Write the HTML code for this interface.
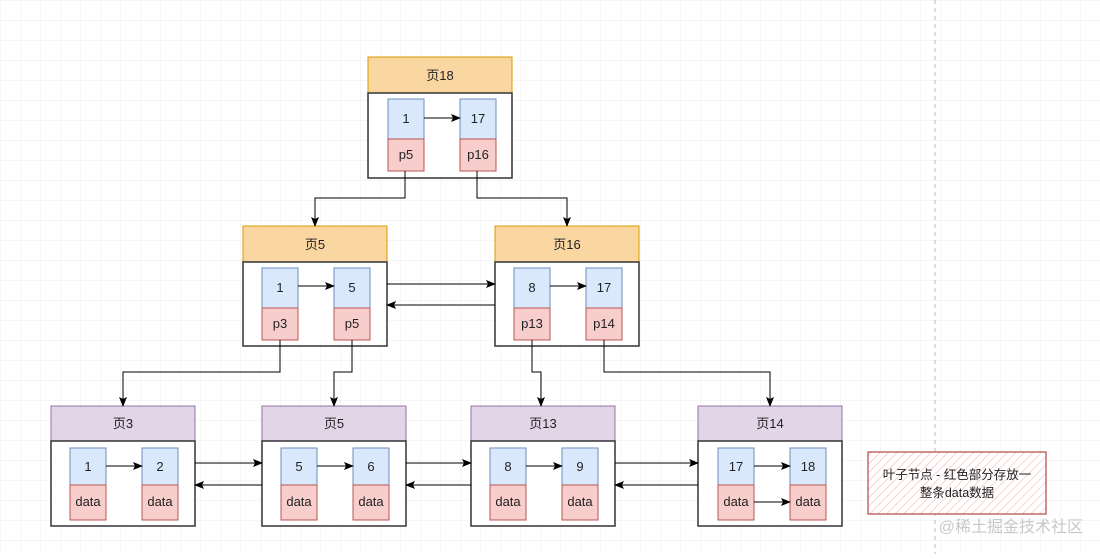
<!DOCTYPE html>
<html><head><meta charset="utf-8"><style>
body{margin:0;background:#fff}
svg text{font-family:"Liberation Sans","Noto Sans CJK SC",sans-serif;font-size:13px;fill:#222}
</style></head><body>
<svg width="1100" height="554" viewBox="0 0 1100 554" xmlns="http://www.w3.org/2000/svg">
<defs>
<pattern id="g" width="20" height="20" patternUnits="userSpaceOnUse"><path d="M20 0H0V20" fill="none" stroke="#ececec" stroke-width="1"/></pattern>
<pattern id="h" width="6" height="6" patternUnits="userSpaceOnUse" patternTransform="rotate(45)"><line x1="0" y1="0" x2="0" y2="6" stroke="#f2b8b8" stroke-width="1.2"/></pattern>
<marker id="a" markerWidth="10" markerHeight="8" refX="9" refY="4" orient="auto" markerUnits="userSpaceOnUse"><path d="M0 0L10 4L0 8L2 4Z" fill="#000"/></marker>
</defs>
<rect width="1100" height="554" fill="url(#g)"/>
<line x1="935" y1="0" x2="935" y2="554" stroke="#bbb" stroke-dasharray="4 4"/>
<g id="nodes"></g>
<!-- Page 18 -->
<rect x="368" y="57" width="144" height="36" fill="#fad7a0" stroke="#d79b00"/>
<text x="440" y="80" text-anchor="middle">页18</text>
<rect x="368" y="93" width="144" height="85" fill="#fff" stroke="#333" stroke-width="1.5"/>
<rect x="388" y="99" width="36" height="40" fill="#dae8fc" stroke="#6c8ebf"/><text x="406" y="123" text-anchor="middle">1</text>
<rect x="388" y="139" width="36" height="32" fill="#f8cecc" stroke="#b85450"/><text x="406" y="159" text-anchor="middle">p5</text>
<rect x="460" y="99" width="36" height="40" fill="#dae8fc" stroke="#6c8ebf"/><text x="478" y="123" text-anchor="middle">17</text>
<rect x="460" y="139" width="36" height="32" fill="#f8cecc" stroke="#b85450"/><text x="478" y="159" text-anchor="middle">p16</text>
<line x1="424" y1="118" x2="460" y2="118" stroke="#000" marker-end="url(#a)"/>
<!-- Page 5 mid -->
<rect x="243" y="226" width="144" height="36" fill="#fad7a0" stroke="#d79b00"/>
<text x="315" y="249" text-anchor="middle">页5</text>
<rect x="243" y="262" width="144" height="84" fill="#fff" stroke="#333" stroke-width="1.5"/>
<rect x="262" y="268" width="36" height="40" fill="#dae8fc" stroke="#6c8ebf"/><text x="280" y="292" text-anchor="middle">1</text>
<rect x="262" y="308" width="36" height="32" fill="#f8cecc" stroke="#b85450"/><text x="280" y="328" text-anchor="middle">p3</text>
<rect x="334" y="268" width="36" height="40" fill="#dae8fc" stroke="#6c8ebf"/><text x="352" y="292" text-anchor="middle">5</text>
<rect x="334" y="308" width="36" height="32" fill="#f8cecc" stroke="#b85450"/><text x="352" y="328" text-anchor="middle">p5</text>
<line x1="298" y1="286" x2="334" y2="286" stroke="#000" marker-end="url(#a)"/>
<!-- Page 16 -->
<rect x="495" y="226" width="144" height="36" fill="#fad7a0" stroke="#d79b00"/>
<text x="567" y="249" text-anchor="middle">页16</text>
<rect x="495" y="262" width="144" height="84" fill="#fff" stroke="#333" stroke-width="1.5"/>
<rect x="514" y="268" width="36" height="40" fill="#dae8fc" stroke="#6c8ebf"/><text x="532" y="292" text-anchor="middle">8</text>
<rect x="514" y="308" width="36" height="32" fill="#f8cecc" stroke="#b85450"/><text x="532" y="328" text-anchor="middle">p13</text>
<rect x="586" y="268" width="36" height="40" fill="#dae8fc" stroke="#6c8ebf"/><text x="604" y="292" text-anchor="middle">17</text>
<rect x="586" y="308" width="36" height="32" fill="#f8cecc" stroke="#b85450"/><text x="604" y="328" text-anchor="middle">p14</text>
<line x1="550" y1="286" x2="586" y2="286" stroke="#000" marker-end="url(#a)"/>
<!-- leaves -->
<g>
<rect x="51" y="406" width="144" height="35" fill="#e1d5e7" stroke="#9673a6"/><text x="123" y="428" text-anchor="middle">页3</text>
<rect x="51" y="441" width="144" height="85" fill="#fff" stroke="#333" stroke-width="1.5"/>
<rect x="70" y="448" width="36" height="37" fill="#dae8fc" stroke="#6c8ebf"/><text x="88" y="471" text-anchor="middle">1</text>
<rect x="70" y="485" width="36" height="35" fill="#f8cecc" stroke="#b85450"/><text x="88" y="506" text-anchor="middle">data</text>
<rect x="142" y="448" width="36" height="37" fill="#dae8fc" stroke="#6c8ebf"/><text x="160" y="471" text-anchor="middle">2</text>
<rect x="142" y="485" width="36" height="35" fill="#f8cecc" stroke="#b85450"/><text x="160" y="506" text-anchor="middle">data</text>
<line x1="106" y1="466" x2="142" y2="466" stroke="#000" marker-end="url(#a)"/>
</g>
<g>
<rect x="262" y="406" width="144" height="35" fill="#e1d5e7" stroke="#9673a6"/><text x="334" y="428" text-anchor="middle">页5</text>
<rect x="262" y="441" width="144" height="85" fill="#fff" stroke="#333" stroke-width="1.5"/>
<rect x="281" y="448" width="36" height="37" fill="#dae8fc" stroke="#6c8ebf"/><text x="299" y="471" text-anchor="middle">5</text>
<rect x="281" y="485" width="36" height="35" fill="#f8cecc" stroke="#b85450"/><text x="299" y="506" text-anchor="middle">data</text>
<rect x="353" y="448" width="36" height="37" fill="#dae8fc" stroke="#6c8ebf"/><text x="371" y="471" text-anchor="middle">6</text>
<rect x="353" y="485" width="36" height="35" fill="#f8cecc" stroke="#b85450"/><text x="371" y="506" text-anchor="middle">data</text>
<line x1="317" y1="466" x2="353" y2="466" stroke="#000" marker-end="url(#a)"/>
</g>
<g>
<rect x="471" y="406" width="144" height="35" fill="#e1d5e7" stroke="#9673a6"/><text x="543" y="428" text-anchor="middle">页13</text>
<rect x="471" y="441" width="144" height="85" fill="#fff" stroke="#333" stroke-width="1.5"/>
<rect x="490" y="448" width="36" height="37" fill="#dae8fc" stroke="#6c8ebf"/><text x="508" y="471" text-anchor="middle">8</text>
<rect x="490" y="485" width="36" height="35" fill="#f8cecc" stroke="#b85450"/><text x="508" y="506" text-anchor="middle">data</text>
<rect x="562" y="448" width="36" height="37" fill="#dae8fc" stroke="#6c8ebf"/><text x="580" y="471" text-anchor="middle">9</text>
<rect x="562" y="485" width="36" height="35" fill="#f8cecc" stroke="#b85450"/><text x="580" y="506" text-anchor="middle">data</text>
<line x1="526" y1="466" x2="562" y2="466" stroke="#000" marker-end="url(#a)"/>
</g>
<g>
<rect x="698" y="406" width="144" height="35" fill="#e1d5e7" stroke="#9673a6"/><text x="770" y="428" text-anchor="middle">页14</text>
<rect x="698" y="441" width="144" height="85" fill="#fff" stroke="#333" stroke-width="1.5"/>
<rect x="718" y="448" width="36" height="37" fill="#dae8fc" stroke="#6c8ebf"/><text x="736" y="471" text-anchor="middle">17</text>
<rect x="718" y="485" width="36" height="35" fill="#f8cecc" stroke="#b85450"/><text x="736" y="506" text-anchor="middle">data</text>
<rect x="790" y="448" width="36" height="37" fill="#dae8fc" stroke="#6c8ebf"/><text x="808" y="471" text-anchor="middle">18</text>
<rect x="790" y="485" width="36" height="35" fill="#f8cecc" stroke="#b85450"/><text x="808" y="506" text-anchor="middle">data</text>
<line x1="754" y1="466" x2="790" y2="466" stroke="#000" marker-end="url(#a)"/>
<line x1="754" y1="502" x2="790" y2="502" stroke="#000" marker-end="url(#a)"/>
</g>
<!-- connectors -->
<g fill="none" stroke="#000" stroke-width="1">
<polyline points="405,171 405,198 315,198 315,226" marker-end="url(#a)"/>
<polyline points="477,171 477,198 567,198 567,226" marker-end="url(#a)"/>
<polyline points="280,340 280,372 123,372 123,406" marker-end="url(#a)"/>
<polyline points="352,340 352,372 334,372 334,406" marker-end="url(#a)"/>
<polyline points="532,340 532,372 541,372 541,406" marker-end="url(#a)"/>
<polyline points="604,340 604,372 770,372 770,406" marker-end="url(#a)"/>
<line x1="387" y1="284" x2="495" y2="284" marker-end="url(#a)"/>
<line x1="495" y1="305" x2="387" y2="305" marker-end="url(#a)"/>
<line x1="195" y1="463" x2="262" y2="463" marker-end="url(#a)"/>
<line x1="262" y1="485" x2="195" y2="485" marker-end="url(#a)"/>
<line x1="406" y1="463" x2="471" y2="463" marker-end="url(#a)"/>
<line x1="471" y1="485" x2="406" y2="485" marker-end="url(#a)"/>
<line x1="615" y1="463" x2="698" y2="463" marker-end="url(#a)"/>
<line x1="698" y1="485" x2="615" y2="485" marker-end="url(#a)"/>
</g>
<!-- note -->
<rect x="868" y="452" width="178" height="62" fill="#fff"/>
<rect x="868" y="452" width="178" height="62" fill="url(#h)" stroke="#b85450" stroke-width="1.3"/>
<text x="957" y="479" text-anchor="middle" style="font-size:12.5px">叶子节点 - 红色部分存放一</text>
<text x="957" y="497" text-anchor="middle" style="font-size:12.5px">整条data数据</text>
<text x="1083" y="532" text-anchor="end" style="font-size:16px;fill:#c8c8c8">@稀土掘金技术社区</text>
</svg>
</body></html>
